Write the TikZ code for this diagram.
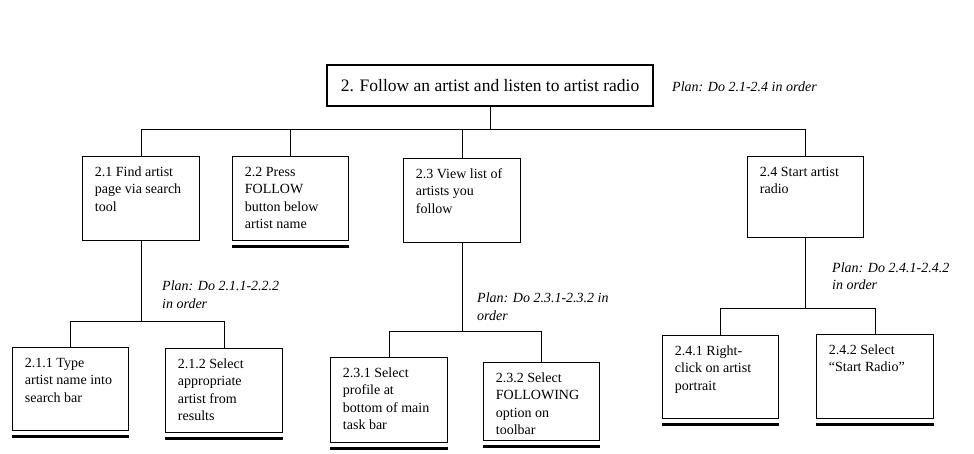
\documentclass[tikz,border=0pt]{standalone}
\usepackage{fontspec}
\setmainfont{Liberation Serif}
\newcommand{\tbx}[3]{\parbox[c][#2pt][t]{#1pt}{\vspace*{7.75pt}\raggedright\leftskip=12.5pt\strut #3}}
\newcommand{\plantext}[1]{\parbox[t]{200pt}{\raggedright #1}}
\begin{document}
\begin{tikzpicture}[x=1pt,y=-1pt,
  task/.style={draw, line width=0.9pt, anchor=north west, inner sep=0pt, font=\fontsize{14pt}{17.5pt}\selectfont},
  rootbox/.style={draw, line width=2pt, anchor=north west, minimum width=326pt, minimum height=41pt, inner sep=0pt, font=\fontsize{17.5pt}{21pt}\selectfont},
  conn/.style={line width=0.9pt},
  uline/.style={line width=3pt},
  plan/.style={anchor=base west, inner sep=0pt, font=\fontsize{14pt}{17.5pt}\selectfont\itshape}]
\useasboundingbox (0,0) rectangle (974,454);

\node[rootbox] (root) at (326,64) {2. Follow an artist and listen to artist radio};

\node[task] (t21) at (82,156) {\tbx{117}{84}{2.1 Find artist\\page via search\\tool}};
\node[task] (t22) at (232,156) {\tbx{116}{84}{2.2 Press\\FOLLOW\\button below\\artist name}};
\node[task] (t23) at (403,158) {\tbx{117}{84}{2.3 View list of\\artists you\\follow}};
\node[task] (t24) at (747,156) {\tbx{116}{81}{2.4 Start artist\\radio}};

\node[task] (t211) at (12,347) {\tbx{116}{83}{2.1.1 Type\\artist name into\\search bar}};
\node[task] (t212) at (165,348) {\tbx{117}{84}{2.1.2 Select\\appropriate\\artist from\\results}};
\node[task] (t231) at (330,357) {\tbx{117}{85}{2.3.1 Select\\profile at\\bottom of main\\task bar}};
\node[task] (t232) at (483,362) {\tbx{116}{78}{2.3.2 Select\\FOLLOWING\\option on\\toolbar}};
\node[task] (t241) at (662,335) {\tbx{116}{83}{2.4.1 Right-\\click on artist\\portrait}};
\node[task] (t242) at (816,334) {\tbx{117}{84}{2.4.2 Select\\“Start Radio”}};

\node[plan] (p0) at (672,91.5) {Plan: Do 2.1-2.4 in order};
\node[plan] (p21) at (162,290.5) {\plantext{Plan: Do 2.1.1-2.2.2\\in order}};
\node[plan] (p23) at (477,302.5) {\plantext{Plan: Do 2.3.1-2.3.2 in\\order}};
\node[plan] (p24) at (832,272.5) {\plantext{Plan: Do 2.4.1-2.4.2\\in order}};

\coordinate (bus0) at (0,129);
\draw[conn] (root.south) -- (root.south |- bus0);
\draw[conn] (t21.north) -- (t21.north |- bus0) -- (t24.north |- bus0) -- (t24.north);
\draw[conn] (t22.north) -- (t22.north |- bus0);
\draw[conn] (t23.north) -- (t23.north |- bus0);

\coordinate (bus1) at (0,321);
\draw[conn] (t21.south) -- (t21.south |- bus1);
\draw[conn] (t211.north) -- (t211.north |- bus1) -- (t212.north |- bus1) -- (t212.north);

\coordinate (bus3) at (0,331);
\draw[conn] (t23.south) -- (t23.south |- bus3);
\draw[conn] (t231.north) -- (t231.north |- bus3) -- (t232.north |- bus3) -- (t232.north);

\coordinate (bus4) at (0,308);
\draw[conn] (t24.south) -- (t24.south |- bus4);
\draw[conn] (t241.north) -- (t241.north |- bus4) -- (t242.north |- bus4) -- (t242.north);

\foreach \n in {t22,t211,t212,t231,t232,t241,t242}
  \draw[uline] ([yshift=-5.5pt]\n.south west) -- ([yshift=-5.5pt]\n.south east);
\end{tikzpicture}
\end{document}
